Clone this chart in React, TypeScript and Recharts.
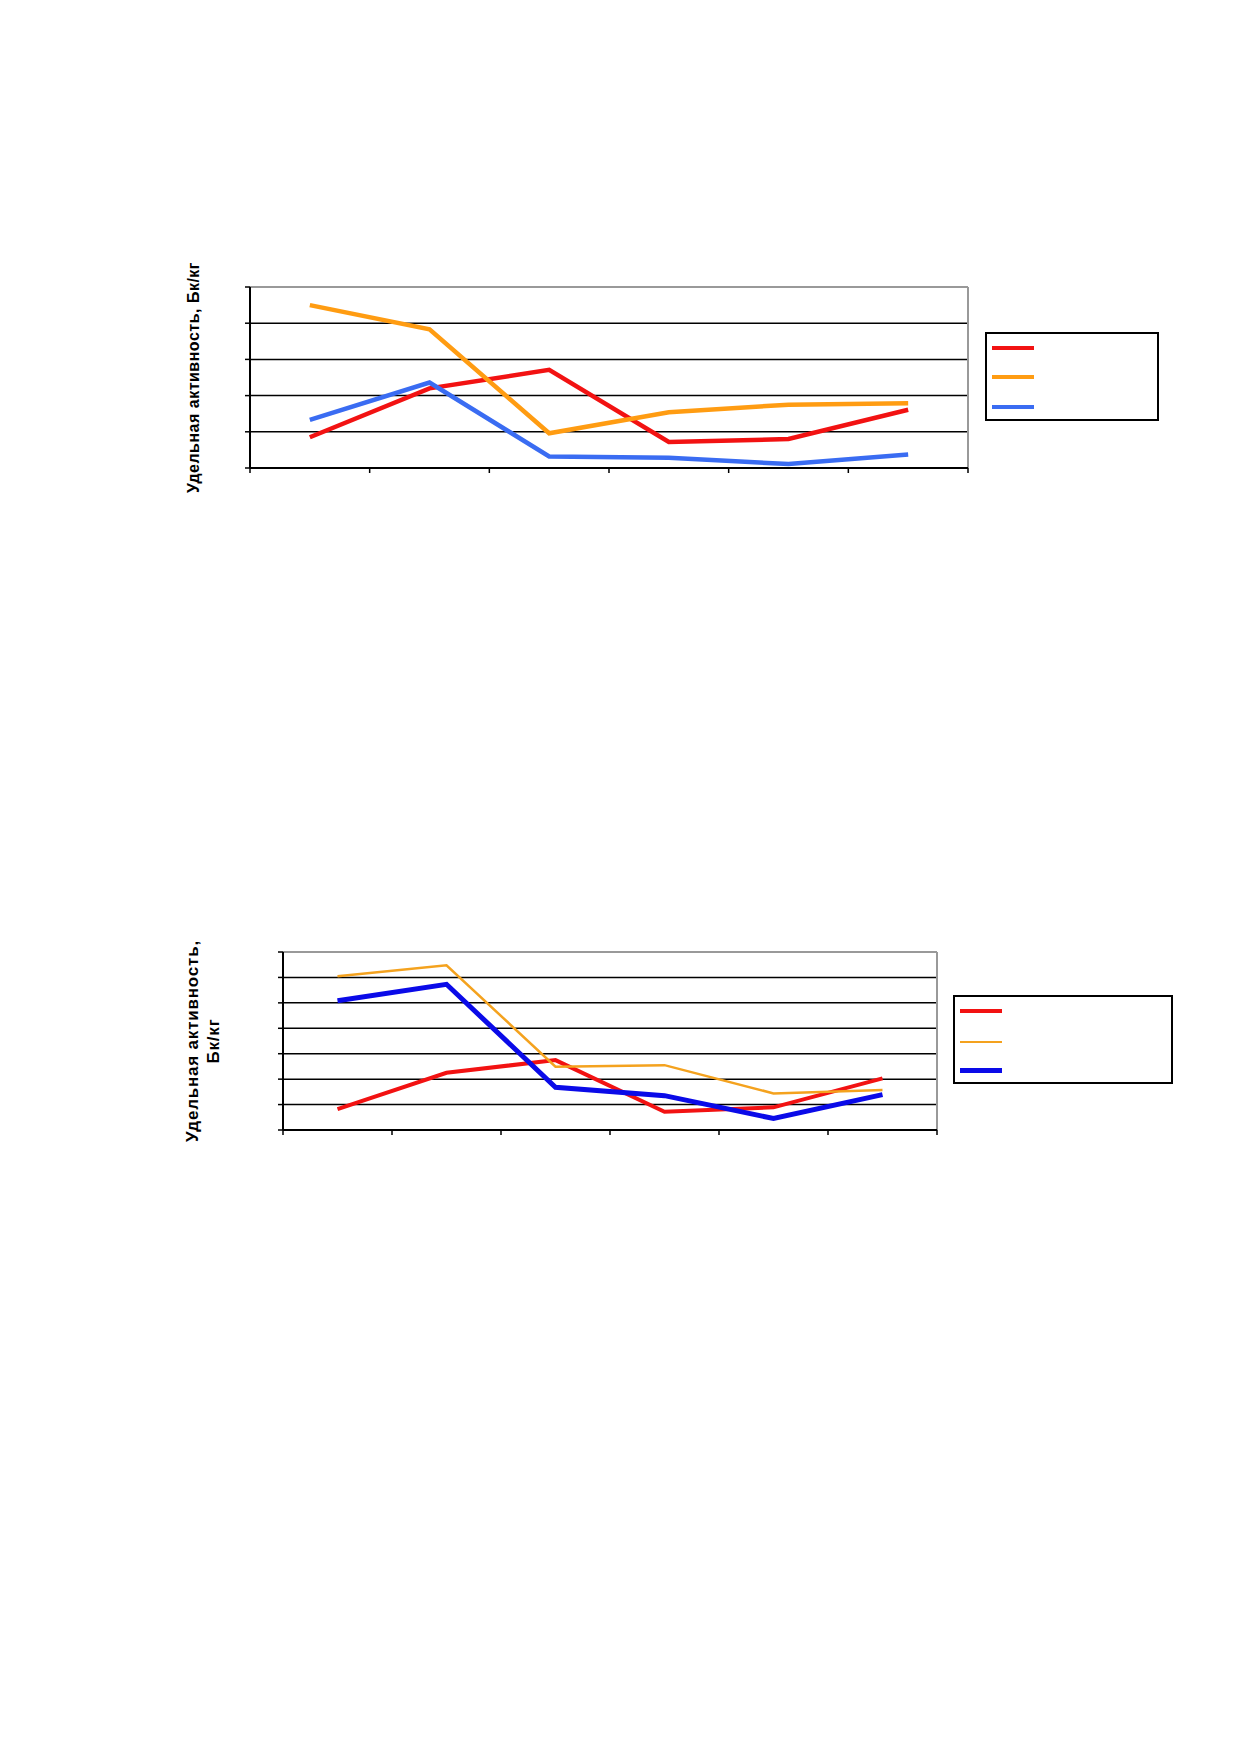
import { CartesianGrid, Line, LineChart, ReferenceLine, XAxis, YAxis } from "recharts";

// Six sampling points per chart; no category labels are printed in the source.
const categories = [1, 2, 3, 4, 5, 6];
const xTicks = [0.5, 1.5, 2.5, 3.5, 4.5, 5.5, 6.5];

// Chart 1 (top)
const topRed = [0.85, 2.2, 2.71, 0.72, 0.8, 1.61];
const topOrange = [4.5, 3.83, 0.96, 1.54, 1.75, 1.79];
const topBlue = [1.33, 2.36, 0.32, 0.28, 0.11, 0.37];
const topYTicks = [0, 1, 2, 3, 4, 5];

// Chart 2 (bottom)
const bottomRed = [0.82, 2.25, 2.75, 0.72, 0.89, 2.03];
const bottomOrange = [6.05, 6.48, 2.49, 2.55, 1.44, 1.57];
const bottomBlue = [5.08, 5.73, 1.68, 1.35, 0.45, 1.39];
const bottomYTicks = [0, 1, 2, 3, 4, 5, 6, 7];

const FONT = "'Liberation Sans', Arial, sans-serif";

interface SeriesStyle {
  key: string;
  color: string;
  width: number;
}

function buildRows(red: number[], orange: number[], blue: number[]) {
  return categories.map((c, i) => ({ x: c, red: red[i], orange: orange[i], blue: blue[i] }));
}

interface LegendSpec {
  left: number;
  top: number;
  w: number;
  h: number;
  rows: number[];
}

// Legend box of the source: swatches only, the entry names are not printed.
function LegendBox({ series, box }: { series: SeriesStyle[]; box: LegendSpec }) {
  return (
    <div
      style={{
        position: "absolute",
        left: box.left,
        top: box.top,
        width: box.w,
        height: box.h,
        border: "2px solid #000",
        boxSizing: "border-box",
        background: "#fff",
      }}
    >
      {series.map((s, i) => (
        <div
          key={s.key}
          style={{
            position: "absolute",
            left: 5,
            top: box.rows[i] - s.width / 2,
            width: 42,
            height: s.width,
            background: s.color,
          }}
        />
      ))}
    </div>
  );
}

interface ChartProps {
  top: number;
  height: number;
  margin: { top: number; right: number; bottom: number; left: number };
  rows: Record<string, number>[];
  yMax: number;
  yTicks: number[];
  series: SeriesStyle[];
  labelLines: { text: string; dx: number }[];
  labelSize: number;
  labelSpacing: number;
  legend: LegendSpec;
}

const noTickLabel = () => <g />;

function PanelChart({
  top,
  height,
  margin,
  rows,
  yMax,
  yTicks,
  series,
  labelLines,
  labelSize,
  labelSpacing,
  legend,
}: ChartProps) {
  return (
    <div style={{ position: "absolute", left: 0, top, width: 1239, height }}>
      <LineChart width={1239} height={height} data={rows} margin={margin}>
        <CartesianGrid
          horizontal
          vertical={false}
          horizontalValues={yTicks}
          stroke="#000"
          strokeWidth={1.5}
          strokeOpacity={1}
        />
        <XAxis
          dataKey="x"
          type="number"
          domain={[0.5, 6.5]}
          ticks={xTicks}
          interval={0}
          tick={noTickLabel}
          tickSize={5}
          height={1}
          axisLine={{ stroke: "#000", strokeWidth: 2 }}
          tickLine={{ stroke: "#000", strokeWidth: 1.5 }}
        />
        <YAxis
          type="number"
          domain={[0, yMax]}
          ticks={yTicks}
          interval={0}
          tick={noTickLabel}
          tickSize={5}
          width={1}
          axisLine={{ stroke: "#000", strokeWidth: 2 }}
          tickLine={{ stroke: "#000", strokeWidth: 1.5 }}
          label={{
            content: (props: any) => {
              const vb = props.viewBox || {};
              const cy = (vb.y ?? 0) + (vb.height ?? 0) / 2;
              const x0 = (vb.x ?? 0) + (vb.width ?? 0);
              return (
                <g>
                  {labelLines.map((l) => (
                    <text
                      key={l.text}
                      x={x0 + l.dx}
                      y={cy}
                      transform={`rotate(-90 ${x0 + l.dx} ${cy})`}
                      textAnchor="middle"
                      dominantBaseline="central"
                      fontFamily={FONT}
                      fontSize={labelSize}
                      fontWeight="bold"
                      letterSpacing={labelSpacing}
                      fill="#000"
                    >
                      {l.text}
                    </text>
                  ))}
                </g>
              );
            },
          }}
        />
        <ReferenceLine y={yMax} stroke="#999" strokeWidth={2} />
        <ReferenceLine x={6.5} stroke="#999" strokeWidth={2} />
        {series.map((s) => (
          <Line
            key={s.key}
            type="linear"
            dataKey={s.key}
            stroke={s.color}
            strokeWidth={s.width}
            dot={false}
            activeDot={false}
            isAnimationActive={false}
          />
        ))}
      </LineChart>
      <LegendBox series={series} box={legend} />
    </div>
  );
}

const topSeries: SeriesStyle[] = [
  { key: "red", color: "#f21212", width: 4.5 },
  { key: "orange", color: "#ff9c12", width: 4.5 },
  { key: "blue", color: "#3a6cf2", width: 4.5 },
];

const bottomSeries: SeriesStyle[] = [
  { key: "red", color: "#f21212", width: 4 },
  { key: "orange", color: "#f4a21e", width: 2.5 },
  { key: "blue", color: "#0a0ae8", width: 5 },
];

export default function App() {
  return (
    <div style={{ position: "absolute", left: 0, top: 0, width: 1239, height: 1752, background: "#fff" }}>
      <PanelChart
        top={250}
        height={250}
        margin={{ top: 37, right: 271, bottom: 31, left: 249 }}
        rows={buildRows(topRed, topOrange, topBlue)}
        yMax={5}
        yTicks={topYTicks}
        series={topSeries}
        labelLines={[{ text: "Удельная активность, Бк/кг", dx: -57 }]}
        labelSize={16}
        labelSpacing={0.5}
        legend={{ left: 985, top: 82, w: 174, h: 89, rows: [14, 43, 73] }}
      />
      <PanelChart
        top={930}
        height={220}
        margin={{ top: 22, right: 302, bottom: 19, left: 282 }}
        rows={buildRows(bottomRed, bottomOrange, bottomBlue)}
        yMax={7}
        yTicks={bottomYTicks}
        series={bottomSeries}
        labelLines={[
          { text: "Удельная активность,", dx: -91 },
          { text: "Бк/кг", dx: -70 },
        ]}
        labelSize={17}
        labelSpacing={0.8}
        legend={{ left: 953, top: 65, w: 220, h: 89, rows: [14, 45, 73] }}
      />
    </div>
  );
}
